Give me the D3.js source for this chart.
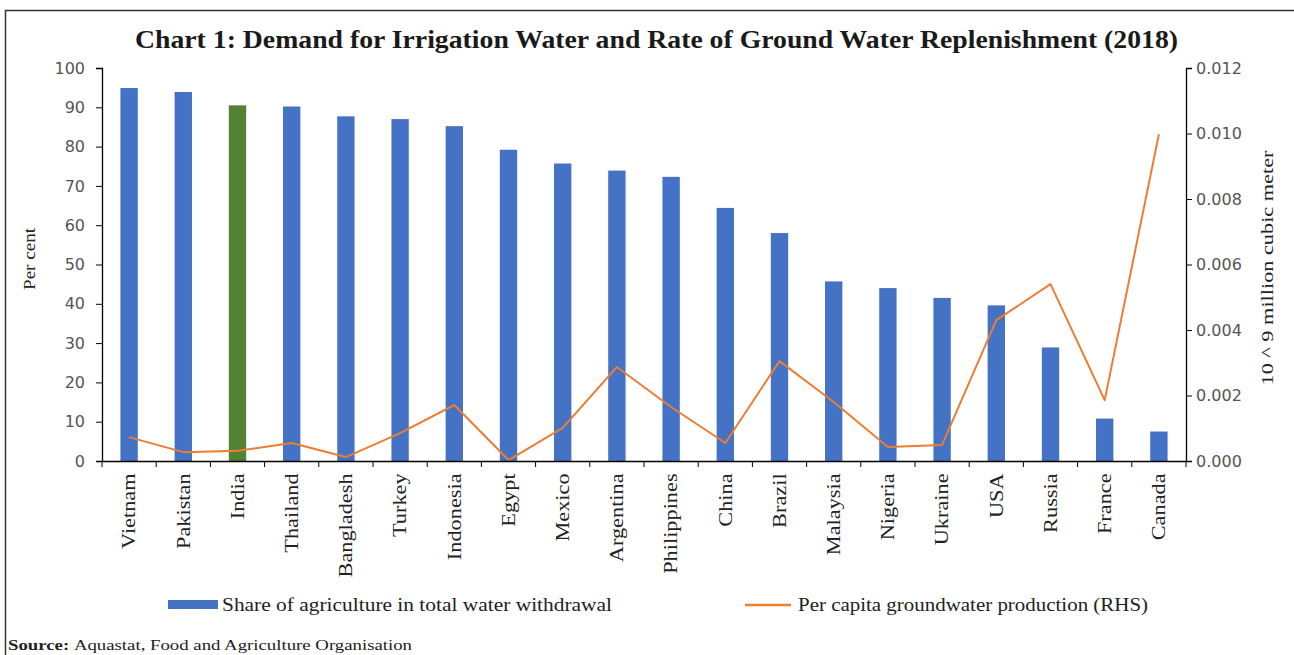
<!DOCTYPE html>
<html><head><meta charset="utf-8">
<script src="https://cdn.jsdelivr.net/npm/d3@7/dist/d3.min.js"></script>
<style>body{margin:0;background:#fff;} svg{display:block;}</style>
</head><body>
<svg id="c" width="1294" height="655"></svg>
<script>
const categories = ["Vietnam","Pakistan","India","Thailand","Bangladesh","Turkey","Indonesia","Egypt","Mexico","Argentina","Philippines","China","Brazil","Malaysia","Nigeria","Ukraine","USA","Russia","France","Canada"];
const shareAgri = [94.9,93.9,90.5,90.2,87.7,87.0,85.2,79.2,75.7,73.9,72.3,64.4,58.0,45.7,44.0,41.5,39.6,28.9,10.8,7.5];
const perCapitaGW = [0.00073,0.00027,0.00031,0.00055,0.00012,0.00085,0.00171,0.00003,0.00101,0.00287,0.00165,0.00055,0.00305,0.00180,0.00043,0.00049,0.00430,0.00540,0.00186,0.00998];
const leftTicks = [0,10,20,30,40,50,60,70,80,90,100];
const rightTicks = [0,0.002,0.004,0.006,0.008,0.010,0.012];
const highlight = "India";

const svg = d3.select("#c");
const m = {l:102, r:1186, t:68, b:461};
const x = d3.scaleBand().domain(categories).range([m.l, m.r]).paddingInner(0.68).paddingOuter(0.34);
const yL = d3.scaleLinear().domain([0,100]).range([m.b, m.t]);
const yR = d3.scaleLinear().domain([0,0.012]).range([m.b, m.t]);
const serif = "Liberation Serif, serif";

// frame
svg.append("path").attr("d","M5.5,660 V10.5 H1294").attr("fill","none").attr("stroke","#333").attr("stroke-width",1.5);

svg.append("text").attr("x",135).attr("y",48)
  .attr("font-family",serif).attr("font-weight","bold").attr("font-size",25)
  .attr("textLength",1043).attr("lengthAdjust","spacingAndGlyphs")
  .attr("fill","#1a1a1a").text("Chart 1: Demand for Irrigation Water and Rate of Ground Water Replenishment (2018)");

// bars
svg.append("g").selectAll("rect").data(categories).join("rect")
  .attr("x", d=>x(d)).attr("width", x.bandwidth())
  .attr("y", (d,i)=>yL(shareAgri[i])).attr("height",(d,i)=>yL(0)-yL(shareAgri[i]))
  .attr("fill", d=> d===highlight ? "#548235" : "#4472C4");

// line
const line = d3.line().x((d,i)=>x(categories[i])+x.bandwidth()/2).y(d=>yR(d));
svg.append("path").datum(perCapitaGW).attr("d",line).attr("fill","none")
  .attr("stroke","#ED7D31").attr("stroke-width",2).attr("stroke-linejoin","round");

const tickFont = "DejaVu Sans, sans-serif";
// left axis
const gL = svg.append("g").attr("transform",`translate(${m.l},0)`)
  .call(d3.axisLeft(yL).tickValues(leftTicks).tickSize(6).tickPadding(11).tickFormat(d3.format("d")));
gL.selectAll("text").attr("font-family",tickFont).attr("font-size",16).attr("fill","#555");
// right axis
const gR = svg.append("g").attr("transform",`translate(${m.r},0)`)
  .call(d3.axisRight(yR).tickValues(rightTicks).tickSize(6).tickPadding(4).tickFormat(d3.format(".3f")));
gR.selectAll("text").attr("font-family",tickFont).attr("font-size",16).attr("fill","#555");
// x axis
const gX = svg.append("g").attr("transform",`translate(0,${m.b})`)
  .call(d3.axisBottom(x).tickSize(0).tickPadding(0));
gX.selectAll(".tick text").each(function(){
  const t = d3.select(this);
  t.attr("transform","rotate(-90) scale(1.24,1)").attr("text-anchor","end")
   .attr("x",-10).attr("y",0).attr("dy","0.35em")
   .attr("font-family",serif).attr("font-size",18).attr("fill","#222");
});
// x boundary ticks
const bounds = categories.map(c=>x(c)-x.step()*x.paddingInner()/2).concat([m.r]);
svg.append("g").selectAll("line").data(bounds).join("line")
  .attr("x1",d=>d).attr("x2",d=>d).attr("y1",m.b).attr("y2",m.b+6).attr("stroke","#000");
[gL,gR,gX].forEach(g=>{g.select(".domain").attr("stroke","#000").attr("stroke-width",1.3);g.selectAll(".tick line").attr("stroke","#000");});

// axis titles
svg.append("text").attr("transform","translate(35,259) rotate(-90)").attr("text-anchor","middle")
  .attr("font-family",serif).attr("font-size",17).attr("textLength",62).attr("lengthAdjust","spacingAndGlyphs")
  .attr("fill","#222").text("Per cent");
svg.append("text").attr("transform","translate(1273,268) rotate(-90)").attr("text-anchor","middle")
  .attr("font-family",serif).attr("font-size",17).attr("textLength",235).attr("lengthAdjust","spacingAndGlyphs")
  .attr("fill","#222").text("10 ^ 9 million cubic meter");

// legend
svg.append("rect").attr("x",168).attr("y",600).attr("width",50).attr("height",9).attr("fill","#4472C4");
svg.append("text").attr("x",222).attr("y",611).attr("font-family",serif).attr("font-size",18).attr("fill","#222")
  .attr("textLength",390).attr("lengthAdjust","spacingAndGlyphs")
  .text("Share of agriculture in total water withdrawal");
svg.append("line").attr("x1",745).attr("x2",791).attr("y1",605).attr("y2",605).attr("stroke","#ED7D31").attr("stroke-width",2.5);
svg.append("text").attr("x",798).attr("y",611).attr("font-family",serif).attr("font-size",18).attr("fill","#222")
  .attr("textLength",350).attr("lengthAdjust","spacingAndGlyphs")
  .text("Per capita groundwater production (RHS)");

// source
const s = svg.append("text").attr("x",8).attr("y",650).attr("font-family",serif).attr("font-size",15).attr("fill","#222")
  .attr("textLength",404).attr("lengthAdjust","spacingAndGlyphs");
s.append("tspan").attr("font-weight","bold").text("Source: ");
s.append("tspan").text("Aquastat, Food and Agriculture Organisation");
</script>
</body></html>
